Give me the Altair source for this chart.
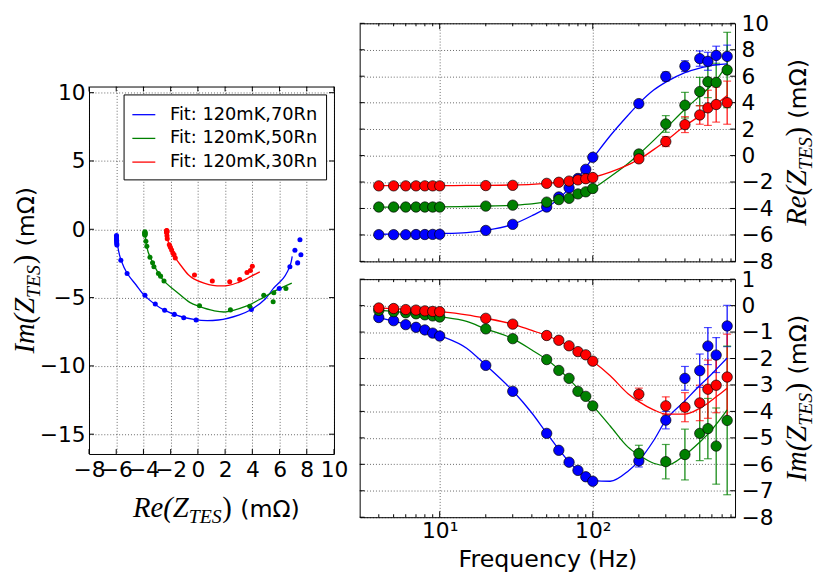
import altair as alt
import pandas as pd

# ---------------- data ----------------
FREQ = [4, 5, 6, 7, 8, 9, 10, 20, 30, 50, 60, 70, 80, 90, 100, 200, 300, 400, 500, 565, 640, 755]
SERIES = ["Fit: 120mK,70Rn", "Fit: 120mK,50Rn", "Fit: 120mK,30Rn"]
COLORS = ["#0000ff", "#008000", "#ff0000"]

RE_70 = [-5.98, -5.98, -5.98, -5.97, -5.97, -5.96, -5.95, -5.66, -5.2, -3.89, -3.13, -2.44, -1.73, -1.04, -0.13, 3.93, 5.98, 6.76, 7.33, 7.13, 7.57, 7.5]
IM_70 = [-0.45, -0.57, -0.72, -0.82, -0.92, -1.04, -1.15, -2.26, -3.24, -4.83, -5.47, -5.92, -6.23, -6.47, -6.64, -5.87, -4.33, -2.75, -2.46, -1.53, -1.87, -0.77]
RE_ERR_70 = [0, 0, 0, 0, 0, 0, 0, 0, 0, 0, 0, 0, 0, 0, 0, 0.2, 0.34, 0.41, 0.58, 0.68, 0.7, 0.85]
IM_ERR_70 = [0, 0, 0, 0, 0, 0, 0, 0, 0, 0, 0, 0, 0, 0, 0, 0.23, 0.33, 0.45, 0.63, 0.7, 0.66, 0.78]

RE_50 = [-3.89, -3.89, -3.89, -3.89, -3.89, -3.89, -3.89, -3.82, -3.75, -3.52, -3.33, -3.23, -2.9, -2.74, -2.49, 0.12, 2.39, 3.81, 4.84, 5.58, 5.53, 6.47]
IM_50 = [-0.18, -0.23, -0.27, -0.31, -0.35, -0.39, -0.43, -0.88, -1.25, -2.04, -2.45, -2.75, -3.24, -3.43, -3.79, -5.59, -5.9, -5.63, -4.83, -4.65, -5.31, -4.34]
RE_ERR_50 = [0, 0, 0, 0, 0, 0, 0, 0, 0, 0, 0, 0, 0, 0, 0, 0.24, 0.63, 0.97, 1.07, 1.2, 1.45, 2.85]
IM_ERR_50 = [0, 0, 0, 0, 0, 0, 0, 0, 0, 0, 0, 0, 0, 0, 0, 0.31, 0.65, 0.96, 1.03, 1.14, 1.44, 2.81]

RE_30 = [-2.29, -2.29, -2.29, -2.29, -2.29, -2.29, -2.29, -2.27, -2.25, -2.1, -2.02, -1.93, -1.84, -1.75, -1.66, -0.25, 1.06, 2.34, 3.07, 3.61, 3.86, 4.0]
IM_30 = [-0.09, -0.11, -0.15, -0.17, -0.2, -0.22, -0.23, -0.48, -0.7, -1.13, -1.31, -1.52, -1.74, -1.86, -2.1, -3.35, -3.79, -3.84, -3.68, -3.16, -3.01, -2.7]
RE_ERR_30 = [0, 0, 0, 0, 0, 0, 0, 0, 0, 0, 0, 0, 0, 0, 0, 0.12, 0.38, 0.6, 0.7, 1.33, 1.33, 1.63]
IM_ERR_30 = [0, 0, 0, 0, 0, 0, 0, 0, 0, 0, 0, 0, 0, 0, 0, 0.23, 0.34, 0.55, 0.67, 1.1, 1.04, 1.62]

FIT_FREQ = [4, 6, 10, 15, 20, 30, 40, 50, 70, 100, 130, 170, 200, 250, 300, 400, 500, 565, 640, 755]
FIT_RE_70 = [-5.95, -5.94, -5.9, -5.82, -5.65, -5.2, -4.55, -3.95, -2.5, -0.2, 1.5, 3.05, 3.93, 4.95, 5.55, 6.27, 6.62, 6.75, 6.85, 6.93]
FIT_IM_70 = [-0.45, -0.7, -1.13, -1.61, -2.25, -3.22, -4.06, -4.82, -5.9, -6.62, -6.64, -6.26, -5.87, -5.1, -4.33, -3.6, -3.02, -2.73, -2.41, -1.98]
FIT_RE_50 = [-3.9, -3.9, -3.88, -3.85, -3.82, -3.75, -3.65, -3.5, -3.15, -2.5, -1.6, -0.6, 0.1, 1.15, 2.05, 3.5, 4.5, 5.05, 5.7, 6.9]
FIT_IM_50 = [-0.18, -0.26, -0.42, -0.6, -0.88, -1.25, -1.68, -2.04, -2.78, -3.78, -4.55, -5.35, -5.65, -5.96, -6.05, -5.65, -5.16, -4.86, -4.49, -3.94]
FIT_RE_30 = [-2.28, -2.28, -2.27, -2.26, -2.25, -2.22, -2.17, -2.1, -1.95, -1.65, -1.25, -0.7, -0.3, 0.45, 1.1, 2.25, 3.0, 3.45, 3.9, 4.55]
FIT_IM_30 = [-0.09, -0.14, -0.23, -0.35, -0.48, -0.7, -0.94, -1.13, -1.52, -2.1, -2.65, -3.33, -3.63, -3.94, -4.1, -4.1, -3.88, -3.69, -3.45, -3.12]

NYQ_X_TICKS = [-8, -6, -4, -2, 0, 2, 4, 6, 8, 10]
NYQ_Y_TICKS = [-15, -10, -5, 0, 5, 10]
RE_TICKS = [-8, -6, -4, -2, 0, 2, 4, 6, 8, 10]
IM_TICKS = [-8, -7, -6, -5, -4, -3, -2, -1, 0, 1]
MAJOR_F = [10, 100]
MINOR_F = [4, 5, 6, 7, 8, 9, 20, 30, 40, 50, 60, 70, 80, 90, 200, 300, 400, 500, 600, 700, 800]

# ---------------- tables ----------------
pts_rows, fit_rows = [], []
series_data = [
    (RE_70, IM_70, RE_ERR_70, IM_ERR_70, FIT_RE_70, FIT_IM_70),
    (RE_50, IM_50, RE_ERR_50, IM_ERR_50, FIT_RE_50, FIT_IM_50),
    (RE_30, IM_30, RE_ERR_30, IM_ERR_30, FIT_RE_30, FIT_IM_30),
]
for k, (re, im, rerr, ierr, fre, fim) in enumerate(series_data):
    for i, f in enumerate(FREQ):
        pts_rows.append(dict(freq=f, re=re[i], im=im[i], re_err=rerr[i], im_err=ierr[i],
                             re_lo=re[i] - rerr[i], re_hi=re[i] + rerr[i],
                             im_lo=im[i] - ierr[i], im_hi=im[i] + ierr[i],
                             series=SERIES[k], hex=COLORS[k], k=k))
    for i, f in enumerate(FIT_FREQ):
        fit_rows.append(dict(freq=f, re=fre[i], im=fim[i], series=SERIES[k], hex=COLORS[k], k=k))
pts = pd.DataFrame(pts_rows)
fit = pd.DataFrame(fit_rows)
err_re = pts[pts.re_err > 0]
err_im = pts[pts.im_err > 0]

# ---------------- sizes ----------------
LW, LH = 248, 372
RW, RH = 380, 241

one = pd.DataFrame({"t": [0]})


def math_title(prefix, x, y, angle):
    base = alt.Chart(one)
    common = dict(angle=angle, baseline="alphabetic", color="black")
    enc = dict(x=alt.value(x), y=alt.value(y))
    return [
        base.mark_text(text=prefix, align="right", font="Liberation Serif", fontStyle="italic",
                       fontSize=29, **common).encode(**enc),
        base.mark_text(text="TES", align="left", dy=6, font="Liberation Serif", fontStyle="italic",
                       fontSize=20, **common).encode(**enc),
        base.mark_text(text=")", align="left", dx=34, font="Liberation Serif",
                       fontSize=29, **common).encode(**enc),
        base.mark_text(text="(m\u03a9)", align="left", dx=52, font="DejaVu Sans",
                       fontSize=24, **common).encode(**enc),
    ]


def xticks(vals, scale, axis, H, length):
    b = alt.Chart(pd.DataFrame({"v": vals})).mark_rule(color="black", strokeWidth=1)
    return [
        b.encode(x=alt.X("v:Q", scale=scale, axis=axis), y=alt.value(H - length), y2=alt.value(H)),
        b.encode(x=alt.X("v:Q", scale=scale, axis=axis), y=alt.value(0), y2=alt.value(length)),
    ]


def yticks(vals, scale, axis, W, length):
    b = alt.Chart(pd.DataFrame({"v": vals})).mark_rule(color="black", strokeWidth=1)
    return [
        b.encode(y=alt.Y("v:Q", scale=scale, axis=axis), x=alt.value(0), x2=alt.value(length)),
        b.encode(y=alt.Y("v:Q", scale=scale, axis=axis), x=alt.value(W - length), x2=alt.value(W)),
    ]


# ---------------- left: Nyquist ----------------
nx = alt.Scale(domain=[-8, 10], nice=False, zero=False)
ny = alt.Scale(domain=[-16.45, 10.45], nice=False, zero=False)
ax_nx = alt.Axis(values=NYQ_X_TICKS, labelOverlap=False, labelFlush=False, ticks=False,
                 domain=False, grid=True, title=None, labelPadding=6)
ax_ny = alt.Axis(values=NYQ_Y_TICKS, labelOverlap=False, labelFlush=False, ticks=False,
                 domain=False, grid=True, title=None, labelPadding=4)

nyq_lines = alt.Chart(fit).mark_line(strokeWidth=1.3, interpolate="catmull-rom").encode(
    x=alt.X("re:Q", scale=nx, axis=ax_nx),
    y=alt.Y("im:Q", scale=ny, axis=ax_ny),
    order=alt.Order("freq:Q"),
    color=alt.Color("series:N", scale=alt.Scale(domain=SERIES, range=COLORS),
                    legend=alt.Legend(title=None, orient="top-right", offset=8,
                                      symbolType="stroke", symbolSize=540, symbolStrokeWidth=1.3,
                                      labelFontSize=18, labelFont="DejaVu Sans", labelColor="black",
                                      strokeColor="black", fillColor="white", padding=8,
                                      rowPadding=2, labelOffset=14, cornerRadius=0, labelLimit=400)),
)
nyq_pts = alt.Chart(pts).mark_circle(size=26, opacity=1).encode(
    x=alt.X("re:Q", scale=nx, axis=ax_nx),
    y=alt.Y("im:Q", scale=ny, axis=ax_ny),
    fill=alt.Fill("hex:N", scale=None),
)
left = alt.layer(
    *xticks(NYQ_X_TICKS, nx, ax_nx, LH, 5), *yticks(NYQ_Y_TICKS, ny, ax_ny, LW, 5),
    nyq_lines, nyq_pts,
    *math_title("Re(Z", 101, LH + 64, 0),
    *math_title("Im(Z", -56, LH / 2 + 28, 270),
).properties(width=LW, height=LH)

spacer = alt.Chart(one).mark_text().encode(text=alt.value(" ")).properties(
    width=LW, height=44, view=alt.ViewBackground(strokeOpacity=0))

# ---------------- right panels ----------------
fx = alt.Scale(type="log", domain=[3, 850], nice=False)


def freq_panel(col, err_df, lo, hi, yscale, yvals, prefix, bottom):
    if bottom:
        xaxis = alt.Axis(values=MAJOR_F, labelExpr="datum.value == 10 ? '10\u00b9' : '10\u00b2'",
                         ticks=False, domain=False, grid=True, title="Frequency (Hz)",
                         titleFontSize=24, titlePadding=6, labelPadding=4, labelFlush=False)
    else:
        xaxis = alt.Axis(values=MAJOR_F, labels=False, ticks=False, domain=False, grid=True, title=None)
    yaxis = alt.Axis(orient="right", values=yvals, ticks=False, domain=False, grid=True,
                     title=None, labelPadding=6, labelFlush=False, labelOverlap=False)
    X = lambda f: alt.X(f"{f}:Q", scale=fx, axis=xaxis)
    Y = lambda f: alt.Y(f"{f}:Q", scale=yscale, axis=yaxis)
    bars = alt.Chart(err_df).mark_rule(strokeWidth=1.2).encode(
        x=X("freq"), y=Y(lo), y2=f"{hi}:Q", color=alt.Color("hex:N", scale=None))
    cap_lo = alt.Chart(err_df).mark_tick(orient="horizontal", size=8, thickness=1.2).encode(
        x=X("freq"), y=Y(lo), color=alt.Color("hex:N", scale=None))
    cap_hi = alt.Chart(err_df).mark_tick(orient="horizontal", size=8, thickness=1.2).encode(
        x=X("freq"), y=Y(hi), color=alt.Color("hex:N", scale=None))
    lines = alt.Chart(fit).mark_line(strokeWidth=1.3, interpolate="monotone").encode(
        x=X("freq"), y=Y(col), stroke=alt.Stroke("hex:N", scale=None), detail="series:N")
    dots = alt.Chart(pts).mark_circle(size=110, opacity=1, stroke="black", strokeWidth=0.7).encode(
        x=X("freq"), y=Y(col), fill=alt.Fill("hex:N", scale=None), order=alt.Order("k:Q"))
    return alt.layer(
        *xticks(MAJOR_F, fx, xaxis, RH, 6), *xticks(MINOR_F, fx, xaxis, RH, 3),
        *yticks(yvals, yscale, yaxis, RW, 5),
        bars, cap_lo, cap_hi, lines, dots,
        *math_title(prefix, RW + 72, RH / 2 + 28, 270),
    ).properties(width=RW, height=RH)


top = freq_panel("re", err_re, "re_lo", "re_hi", alt.Scale(domain=[-8, 10], nice=False, zero=False),
                 RE_TICKS, "Re(Z", False)
bot = freq_panel("im", err_im, "im_lo", "im_hi", alt.Scale(domain=[-8, 1], nice=False, zero=False),
                 IM_TICKS, "Im(Z", True)

left_col = alt.vconcat(spacer, left, spacing=20, bounds="flush").resolve_scale(
    color="independent").resolve_legend(color="independent")
right_col = alt.vconcat(top, bot, spacing=18, bounds="flush")

chart = alt.hconcat(left_col, right_col, spacing=10).resolve_scale(
    color="independent").resolve_legend(color="independent").properties(
    padding={"left": 2, "top": 0, "right": 2, "bottom": 0}
).configure_view(
    stroke="black", strokeWidth=1
).configure_axis(
    gridColor="black", gridDash=[1, 2], gridWidth=0.8, gridOpacity=0.75,
    labelFont="DejaVu Sans", labelFontSize=22, labelColor="black",
    titleFont="DejaVu Sans", titleFontWeight="normal", titleColor="black",
)

chart.save("out.html", embed_options={"renderer": "svg", "actions": False})
